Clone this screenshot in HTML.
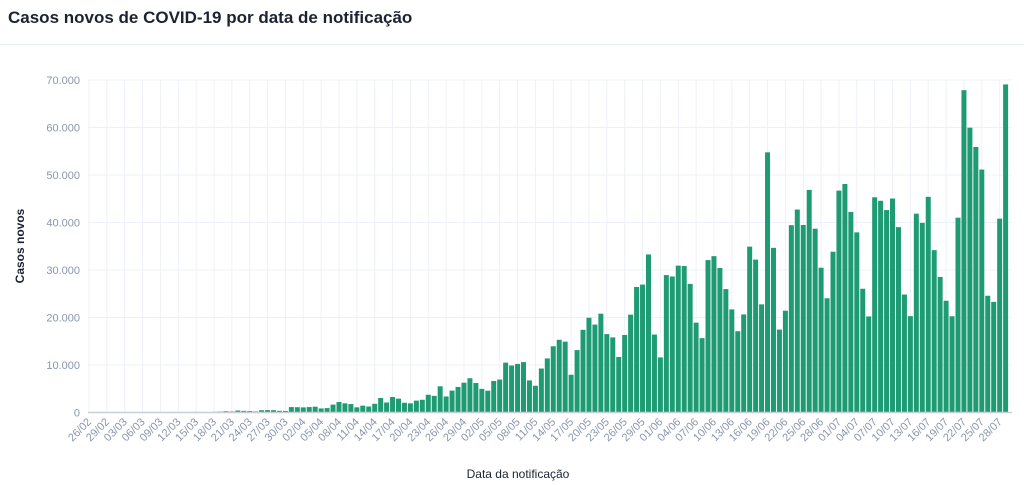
<!DOCTYPE html>
<html><head><meta charset="utf-8"><style>
body{margin:0;background:#fff;font-family:"Liberation Sans",sans-serif;}
#wrap{position:relative;width:1024px;height:485px;overflow:hidden;}
#title{position:absolute;left:8px;top:8px;font-size:17px;font-weight:bold;color:#1b2333;}
#sep{position:absolute;left:0;top:44px;width:1024px;height:1px;background:#e8eef5;}
svg{position:absolute;left:0;top:0;}
</style></head><body>
<div id="wrap">
<div id="title">Casos novos de COVID-19 por data de notificação</div>
<div id="sep"></div>
<svg id="chart" width="1024" height="485"></svg>
</div>
<script>
const startLabel = "2020-02-26";
const cases = [1,0,0,1,
0,0,0,1,5,6,6,0,6,18,25,21,23,79,121,34,57,137,193,283,224,418,345,310,232,482,502,487,352,323,1138,
1119,1074,1146,1222,852,926,1661,2210,1930,1781,1089,1442,1261,1832,3058,2105,3257,2917,2055,1927,2498,2678,3735,3503,5514,3379,4613,5385,6276,7218,
6209,4970,4588,6633,6935,10503,9888,10222,10611,6760,5632,9258,11385,13944,15305,14919,7938,13140,17408,19951,18508,20803,16508,15813,11687,16324,20599,26417,26928,33274,16409,
11598,28936,28633,30925,30830,27075,18912,15654,32091,32913,30412,25982,21704,17110,20647,34918,32188,22765,54771,34666,17459,21432,39436,42725,39483,46860,38693,30476,24052,33846,
46712,48105,42223,37923,26051,20229,45305,44571,42619,45048,39023,24831,20286,41857,39924,45403,34177,28532,23529,20257,41008,67860,59961,55891,51147,24578,23284,40816,69074];
const yTicks = [0,10000,20000,30000,40000,50000,60000,70000];
const yTickLabels = ["0","10.000","20.000","30.000","40.000","50.000","60.000","70.000"];

const NS="http://www.w3.org/2000/svg";
const svg=document.getElementById('chart');
const x0=89, step=5.952, yBase=412.5, yTop=80, yMax=70000;
const xs=i=>x0+i*step;
const ys=v=>yBase-(v/yMax)*(yBase-yTop);
function mk(t,a){const e=document.createElementNS(NS,t);for(const k in a)e.setAttribute(k,a[k]);svg.appendChild(e);return e;}
function lbl(i){const d=new Date(startLabel+"T00:00:00Z");d.setUTCDate(d.getUTCDate()+i);return String(d.getUTCDate()).padStart(2,'0')+"/"+String(d.getUTCMonth()+1).padStart(2,'0');}
// horizontal grid + y labels
yTicks.forEach((v,k)=>{
 const l=mk('line',{x1:88,x2:1012,y1:ys(v),y2:ys(v),stroke:'#edf1f7','stroke-width':1});
 
 
 const t=mk('text',{x:80,y:ys(v)+4,'text-anchor':'end','font-size':11,fill:'#8a96ad'});
 t.textContent=yTickLabels[k];
 
 
});
// vertical grid + x labels
for(let i=0;i<cases.length;i+=3){
 const x=xs(i);
 const g=mk('line',{x1:x,x2:x,y1:yTop,y2:yBase,stroke:'#edf1f7','stroke-width':1});
 
 
 const t=mk('text',{x:x+3,y:yBase+10,'text-anchor':'end','font-size':11,fill:'#8a96ad',transform:`rotate(-45 ${x+3} ${yBase+10})`});
 t.textContent=lbl(i);
 
 
}
// bars
cases.forEach((v,i)=>{
 const y=ys(v);
 const b=mk('rect',{x:xs(i)-2.5,y:y,width:5,height:Math.max(0,yBase-y),fill:'#1f9b74'});
 
 
});
const ax=mk('line',{x1:88,x2:1012,y1:yBase,y2:yBase,stroke:'#c8ced8','stroke-width':1.5});


const yt=mk('text',{x:24,y:246,'text-anchor':'middle','font-size':12,'font-weight':'bold',fill:'#1b2333',transform:'rotate(-90 24 246)'});
yt.textContent='Casos novos';


const xt=mk('text',{x:518,y:478,'text-anchor':'middle','font-size':12,fill:'#1b2333'});
xt.textContent='Data da notificação';


</script>
</body></html>
